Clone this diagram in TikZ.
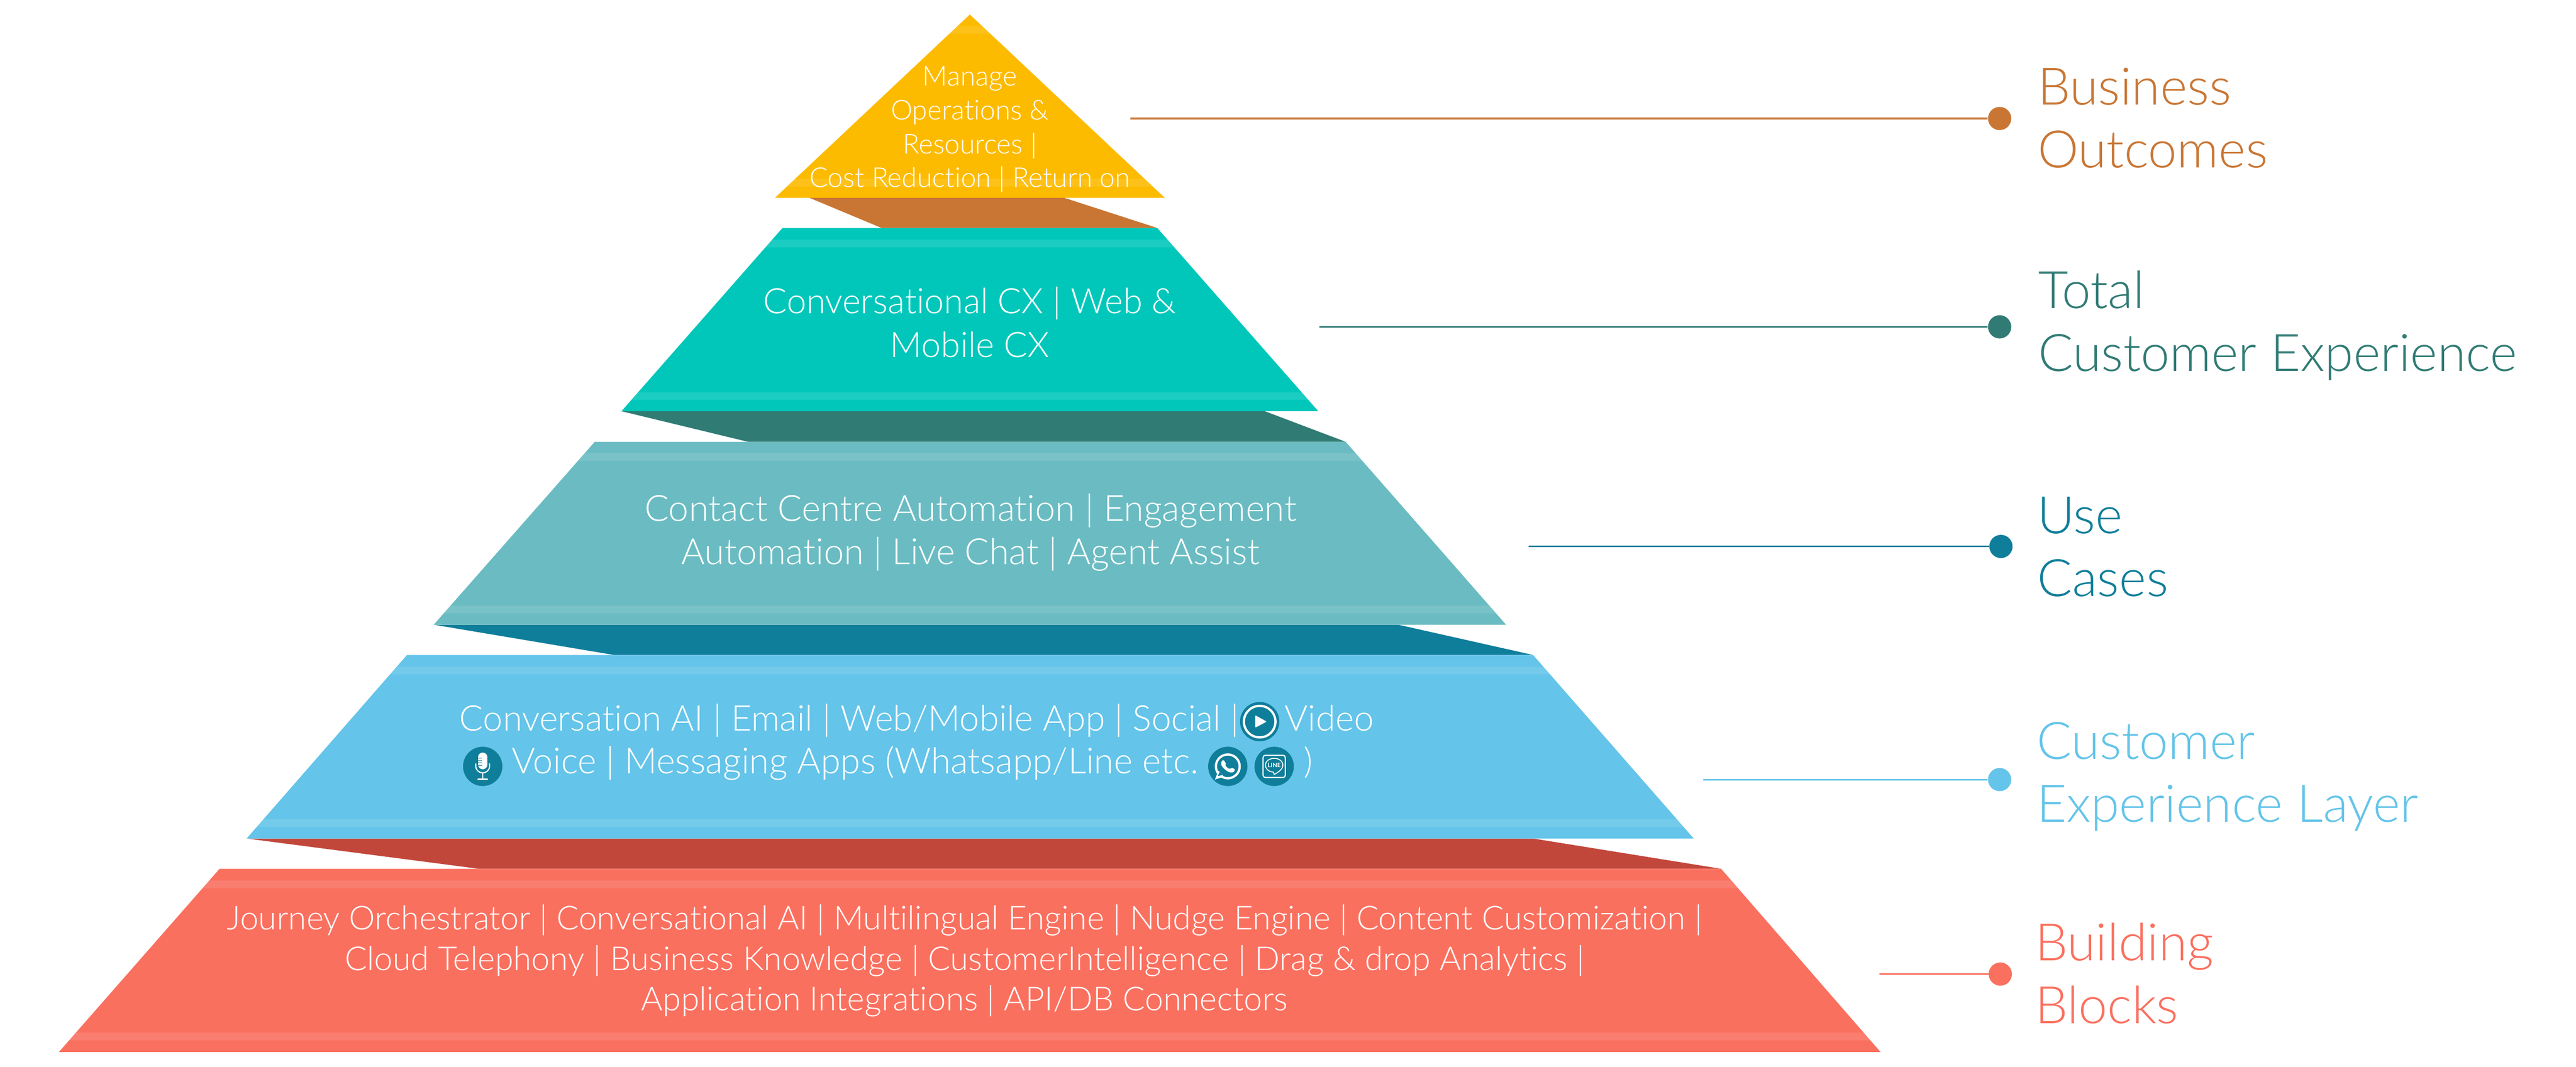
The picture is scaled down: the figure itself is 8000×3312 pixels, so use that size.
\documentclass[tikz,border=0pt]{standalone}
\usepackage{fontspec}
\setmainfont{Lato}[UprightFont={* Light},Ligatures=NoCommon]
\newfontfamily\linefont{Lato}[Ligatures=NoCommon]
\definecolor{cGold}{HTML}{FDBB00}
\definecolor{cTeal}{HTML}{00C7BA}
\definecolor{cAqua}{HTML}{6ABCC2}
\definecolor{cSky}{HTML}{64C4E9}
\definecolor{cCoral}{HTML}{FA705F}
\definecolor{cBrown}{HTML}{C97634}
\definecolor{cPine}{HTML}{317B75}
\definecolor{cPetrol}{HTML}{0F7E9A}
\definecolor{cBrick}{HTML}{C2473B}
\tikzset{
  layer/.style={fill=#1,draw=none},
  sheen/.style={fill=white,fill opacity=.1,draw=none},
  body/.style={text=white,align=center,inner sep=0pt,outer sep=0pt,anchor=base},
  bodytxt/.style 2 args={font=\fontsize{#1}{#2}\selectfont},
  lab/.style={text=#1,align=left,inner sep=0pt,outer sep=0pt,anchor=base west,font=\fontsize{45.7}{55.5}\selectfont},
  dotnode/.style={circle,fill=#1,draw=none,minimum size=20.5pt,inner sep=0pt},
  lead/.style={draw=#1,line width=1.4pt},
  badge/.style={circle,fill=cPetrol,draw=none,minimum size=34.7pt,inner sep=0pt},
  glyph/.style={draw=white,fill=none},
}
\begin{document}
\begin{tikzpicture}[x=0.01cm,y=-0.01cm]
\useasboundingbox (0,0) rectangle (8000,3312);
% shadows
\fill[cBrown] (2513,614)--(3304,614)--(3594,708)--(2738,708)--cycle;
\fill[cPine] (1930,1277)--(3928,1277)--(4179,1372)--(2323,1372)--cycle;
\fill[cPetrol] (1347,1940)--(4342,1940)--(4761,2034)--(1907,2034)--cycle;
\fill[cBrick] (766,2604)--(4761,2604)--(5345,2698)--(1487,2698)--cycle;
% layers
\fill[layer=cGold] (3012,45)--(3617,614)--(2407,614)--cycle;
\fill[layer=cTeal] (2430,708)--(3594,708)--(4094,1277)--(1930,1277)--cycle;
\fill[layer=cAqua] (1847,1372)--(4179,1372)--(4677,1940)--(1347,1940)--cycle;
\fill[layer=cSky] (1264,2034)--(4761,2034)--(5260,2604)--(766,2604)--cycle;
\fill[layer=cCoral] (682,2698)--(5345,2698)--(5840,3267)--(183,3267)--cycle;
% sheen bands
\fill[sheen] (2974,81)--(3050,81)--(3076,105)--(2948,105)--cycle;
\fill[sheen] (2470,555)--(3554,555)--(3579,579)--(2445,579)--cycle;
\fill[sheen] (2398,744)--(3626,744)--(3647,768)--(2377,768)--cycle;
\fill[sheen] (1982,1218)--(4042,1218)--(4063,1242)--(1961,1242)--cycle;
\fill[sheen] (1816,1407)--(4210,1407)--(4231,1431)--(1795,1431)--cycle;
\fill[sheen] (1399,1881)--(4625,1881)--(4646,1905)--(1378,1905)--cycle;
\fill[sheen] (1233,2070)--(4793,2070)--(4813,2094)--(1212,2094)--cycle;
\fill[sheen] (818,2544)--(5207,2544)--(5229,2568)--(797,2568)--cycle;
\fill[sheen] (650,2734)--(5376,2734)--(5397,2758)--(629,2758)--cycle;
\fill[sheen] (236,3207)--(5788,3207)--(5809,3231)--(215,3231)--cycle;
% pyramid texts (anchored on the baseline of the last line)
\node[body,bodytxt={24.3}{29.9}] (t1) at (3012,582) {Manage\\Operations \&\\Resources |\\Cost Reduction | Return on};
\node[body,bodytxt={31}{38.4}] (t2) at (3012,1109) {Conversational CX | Web \&\\Mobile CX};
\node[body,bodytxt={31.9}{38.4}] (t3) at (3014,1753) {Contact Centre Automation | Engagement\\Automation | Live Chat | Agent Assist};
\node[body,bodytxt={31.3}{38},anchor=base west] (t4a) at (1427,2269) {Conversation AI | Email | Web/Mobile App | Social |};
\node[body,bodytxt={31.3}{38},anchor=base west] (t4b) at (3990,2269) {Video};
\node[body,bodytxt={31.7}{38},anchor=base west] (t4c) at (1590,2403) {Voice | Messaging Apps (Whatsapp/Line etc.};
\node[body,bodytxt={31.3}{38},anchor=base west] (t4d) at (4048,2403) {)};
\node[body,bodytxt={29.2}{35.6}] (t5) at (2995,3138) {Journey Orchestrator | Conversational AI | Multilingual Engine | Nudge Engine | Content Customization |\\Cloud Telephony | Business Knowledge | CustomerIntelligence | Drag \& drop Analytics |\\Application Integrations | API/DB Connectors};
% play icon
\node[badge] (play) at (3912,2241) {};
\begin{scope}[shift={(play.center)}]
\draw[glyph,line width=2pt] (0,0) circle (49);
\fill[white,rounded corners=1pt] (-14,-20)--(22,0)--(-14,19)--cycle;
\end{scope}
% microphone icon
\node[badge] (mic) at (1499,2380) {};
\begin{scope}[shift={(mic.center)}]
\draw[white,line width=7.97pt,line cap=round] (0,-29)--(0,-5);
\foreach \yy in {-26,-18,-11,-3} \draw[cPetrol,line width=0.4pt] (-14,\yy)--(-1,\yy);
\draw[glyph,line width=1pt,line cap=round] (-21.5,-8)--(-21.5,-1) .. controls (-21.5,11) and (-12,20) .. (0,20) .. controls (12,20) and (21.5,11) .. (21.5,-1)--(21.5,-8);
\draw[glyph,line width=1pt] (0,20)--(0,40);
\draw[glyph,line width=1.1pt,line cap=round] (-14.5,40)--(14.5,40);
\end{scope}
% whatsapp icon
\node[badge] (wa) at (3813,2380) {};
\begin{scope}[shift={(wa.center)}]
\draw[glyph,line width=2pt] (0,0) circle (37);
\fill[white] (-40,41)--(-29,13)--(-12,32)--cycle;
\fill[cPetrol] (-31,30)--(-25,17)--(-17,27)--cycle;
\fill[white] (-15,-19) .. controls (-11,-20) and (-9,-15) .. (-6,-8) .. controls (-9,-5) and (-8,-3) .. (-4,1) .. controls (0,6) and (4,9) .. (8,7) .. controls (11,4) and (13,5) .. (17,6) .. controls (22,9) and (23,11) .. (21,13) .. controls (19,19) and (13,20) .. (9,19) .. controls (-2,18) and (-19,2) .. (-20,-5) .. controls (-22,-12) and (-19,-18) .. (-15,-19) -- cycle;
\end{scope}
% line icon
\node[badge] (line) at (3957,2380) {};
\begin{scope}[shift={(line.center)}]
\draw[glyph,line width=1pt,rounded corners=2pt] (-34.5,-34.5) rectangle (34.5,34.5);
\draw[glyph,line width=.8pt] (-2,18) .. controls (-16,17) and (-27,8) .. (-27,-4) .. controls (-27,-16) and (-15,-25) .. (0,-25) .. controls (15,-25) and (27,-16) .. (27,-4) .. controls (27,8) and (14,18) .. (0,25) .. controls (-1,22) and (-1,20) .. (-2,18) -- cycle;
\node[text=white,inner sep=0pt,font=\linefont\bfseries\fontsize{5.3}{6}\selectfont] (linetxt) at (0,-3) {LINE};
\end{scope}
% labels
\node[lab=cBrown] (l1) at (6328,521) {Business\\Outcomes};
\node[lab=cPine] (l2) at (6330,1152) {Total\\Customer Experience};
\node[lab=cPetrol] (l3) at (6327,1852) {Use\\Cases};
\node[lab=cSky] (l4) at (6325,2552) {Customer\\Experience Layer};
\node[lab=cCoral] (l5) at (6320,3179) {Building\\Blocks};
% leaders
\node[dotnode=cBrown] (d1) at (6210,368) {};
\node[dotnode=cPine] (d2) at (6210,1015) {};
\node[dotnode=cPetrol] (d3) at (6214,1697) {};
\node[dotnode=cSky] (d4) at (6210,2421) {};
\node[dotnode=cCoral] (d5) at (6212,3025) {};
\coordinate (s1) at (3511,368);
\coordinate (s2) at (4098,1015);
\coordinate (s3) at (4747,1697);
\coordinate (s4) at (5289,2421);
\coordinate (s5) at (5837,3025);
\draw[lead=cBrown] (s1)--(d1);
\draw[lead=cPine] (s2)--(d2);
\draw[lead=cPetrol] (s3)--(d3);
\draw[lead=cSky] (s4)--(d4);
\draw[lead=cCoral] (s5)--(d5);
\end{tikzpicture}
\end{document}
